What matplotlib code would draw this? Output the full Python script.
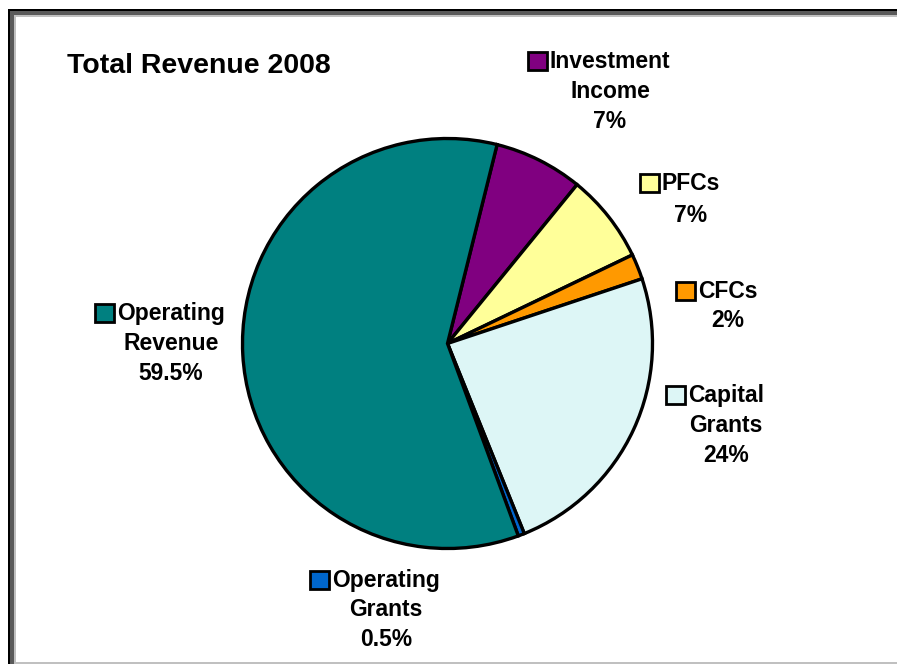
import matplotlib
matplotlib.use("Agg")
import matplotlib.pyplot as plt
from matplotlib.patches import Rectangle

plt.rcParams['font.family'] = ['Liberation Sans', 'DejaVu Sans']

# ---- data ----
categories = ["Investment\nIncome", "PFCs", "CFCs", "Capital\nGrants",
              "Operating\nGrants", "Operating\nRevenue"]
values = [7, 7, 2, 24, 0.5, 59.5]
colors = ["#800080", "#FFFF99", "#FF9900", "#DDF6F6", "#0066CC", "#008080"]
title = "Total Revenue 2008"

W, H = 897, 664
fig = plt.figure(figsize=(W / 100, H / 100), dpi=100)
ax = fig.add_axes([0, 0, 1, 1])

# pie (pixel coordinates, y measured from bottom)
cx, cy, r = 447.5, H - 343.5, 205
ax.pie(values, colors=colors, startangle=76, counterclock=False,
       center=(cx, cy), radius=r,
       wedgeprops=dict(edgecolor="black", linewidth=2.4))
ax.set_xlim(0, W)
ax.set_ylim(0, H)
ax.set_aspect("auto")
ax.axis("off")

# frame borders
def rect(x0, y0, x1, y1, c):
    ax.add_patch(Rectangle((x0, H - y1), x1 - x0, y1 - y0, facecolor=c,
                           edgecolor="none", antialiased=False, zorder=5))

rect(8, 9, W, 11, "#000000")
rect(8, 9, 10, H, "#000000")
rect(10, 11, W, 15, "#5a5a5a")
rect(10, 11, 14, H, "#5a5a5a")
rect(14, 15, W, 17, "#c0c0c0")
rect(14, 15, 16, H, "#c0c0c0")
rect(14, 662, W, H, "#c0c0c0")

# title
ax.text(67, H - 73, title, fontsize=20.5, fontweight="bold", ha="left",
        va="baseline", zorder=6)

# labels: (center x, first baseline y in image coords, line spacing)
label_pos = [(610, 68, 30), (691, 190, 32), (728, 298, 29),
             (726, 402, 30), (386, 587, 29.5), (171, 320, 30)]

fig.canvas.draw()
renderer = fig.canvas.get_renderer()
fs = 16.5
for cat, val, col, (lx, ly, sp) in zip(categories, values, colors, label_pos):
    lines = cat.split("\n") + [f"{val:g}%"]
    first = None
    for i, line in enumerate(lines):
        t = ax.text(lx, H - (ly + i * sp), line, fontsize=fs, fontweight="bold",
                    ha="center", va="baseline", zorder=6)
        if i == 0:
            first = t
    bb = first.get_window_extent(renderer=renderer)
    kx1 = bb.x0 - 3
    ax.add_patch(Rectangle((kx1 - 19, H - (ly + 2)), 19, 18, facecolor=col,
                           edgecolor="black", linewidth=2.0, zorder=6))

fig.savefig("out.png", dpi=100)
